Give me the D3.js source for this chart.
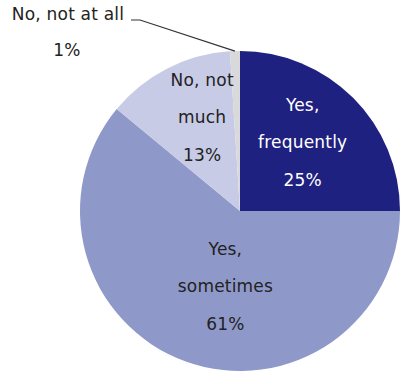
<!DOCTYPE html>
<html><head><meta charset="utf-8">
<script src="https://cdn.jsdelivr.net/npm/d3@7"></script>
<style>html,body{margin:0;padding:0;background:#fff;}svg{display:block;}</style>
</head><body>
<svg id="c" width="400" height="374"></svg>
<script>
const categories = ["Yes, frequently", "Yes, sometimes", "No, not much", "No, not at all"];
const values = [25, 61, 13, 1];
const labelLines = [["Yes,", "frequently", "25%"], ["Yes,", "sometimes", "61%"], ["No, not", "much", "13%"], ["No, not at all", "1%"]];
const colors = ["#1f2180", "#8f99c9", "#c8cbe6", "#d9d9dc"];
const textColors = ["#ffffff", "#222222", "#222222", "#222222"];

const svg = d3.select("#c");
const cx = 240, cy = 211, R = 160;
const g = svg.append("g").attr("transform", `translate(${cx},${cy})`);

const pie = d3.pie().sort(null).value(d => d)(values);
const arc = d3.arc().innerRadius(0).outerRadius(R);

g.selectAll("path").data(pie).join("path")
  .attr("d", arc)
  .attr("fill", (d, i) => colors[i]);

const fontFamily = "'DejaVu Sans', Verdana, sans-serif";
const fs = 17;
const ls = "0.2px";
// label placement (angle in degrees from 12 o'clock, radius)
const labelPolar = [[42.4, 93], [191, 76.5], [338, 101]];
const lh = 37.5;
labelPolar.forEach((p, i) => {
  const a = p[0] * Math.PI / 180;
  const x = p[1] * Math.sin(a), y = -p[1] * Math.cos(a);
  const lines = labelLines[i];
  const t = g.append("text")
    .attr("text-anchor", "middle")
    .attr("font-family", fontFamily)
    .attr("font-size", fs)
    .attr("letter-spacing", ls)
    .attr("fill", textColors[i]);
  lines.forEach((s, k) => {
    t.append("tspan").attr("x", x)
      .attr("y", y + (k - (lines.length - 1) / 2) * lh)
      .attr("dy", "0.35em").text(s);
  });
});

// outside label for the small slice
const small = pie[3];
const edgeAngle = (small.startAngle + small.endAngle) / 2;
const ex = cx + R * Math.sin(edgeAngle), ey = cy - R * Math.cos(edgeAngle);
svg.append("polyline")
  .attr("points", `${ex},${ey} 140,20 131,20`)
  .attr("fill", "none").attr("stroke", "#333").attr("stroke-width", 1.2);
svg.append("text").attr("x", 68).attr("y", 14).attr("dy", "0.35em")
  .attr("text-anchor", "middle").attr("font-family", fontFamily).attr("font-size", fs)
  .attr("letter-spacing", ls)
  .attr("fill", textColors[3]).text(labelLines[3][0]);
svg.append("text").attr("x", 67).attr("y", 50).attr("dy", "0.35em")
  .attr("text-anchor", "middle").attr("font-family", fontFamily).attr("font-size", fs)
  .attr("letter-spacing", ls)
  .attr("fill", textColors[3]).text(labelLines[3][1]);
</script>
</body></html>
